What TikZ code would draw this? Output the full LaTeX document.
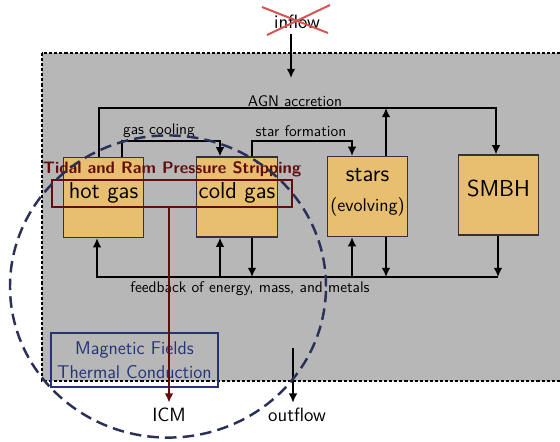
\documentclass[tikz,border=0pt]{standalone}
\usepackage{tikz}
\usetikzlibrary{positioning,arrows,arrows.meta}
\renewcommand{\familydefault}{\sfdefault}
\definecolor{gasorange}{RGB}{232,190,112}
\definecolor{regiongray}{RGB}{183,183,183}
\definecolor{stripred}{RGB}{100,12,12}
\definecolor{fieldblue}{RGB}{36,52,122}
\definecolor{halonavy}{RGB}{42,48,88}
\definecolor{crossred}{RGB}{214,84,84}

\begin{document}
\begin{tikzpicture}[x=0.65pt,y=-0.65pt]
 \tikzset{arrow/.style={line width=1pt,-{Latex[length=6pt,width=5.6pt]}},
   reservoir/.style={draw=black!80,line width=0.8pt,fill=gasorange,inner sep=0pt,
     minimum width=52.3pt,minimum height=52pt,text depth=9pt,align=center,
     font=\fontsize{15}{19.5}\selectfont},
   bigtext/.style={font=\fontsize{12.5}{15}\selectfont},
   redarrow/.style={draw=stripred,line width=1.3pt,-{Latex[length=6pt,width=5.6pt]}}}
 \useasboundingbox (0,0) rectangle (560,441);
 \draw[fill=regiongray,line width=1.2pt,dash pattern=on 2pt off 1.3pt] (42,53) rectangle (600,381);

 \node[reservoir] (hot) at (103.5,197.5) {hot gas};
 \node[reservoir] (cold) at (237,197) {cold gas};
 \node[reservoir] (stars) at (367.5,196.5) {stars\\{\fontsize{12}{14}\selectfont (evolving)}};
 \node[reservoir] (smbh) at (498.5,195) {SMBH};

 \node (agn) at (295,101) {AGN accretion};
 \node (cool) at (159,131) {gas cooling};
 \node (sf) at (301,131) {star formation};
 \node (fb) at (250,289) {feedback of energy, mass, and metals};

 \coordinate (agnL) at (99,108);
 \coordinate (agnR) at (496,108);
 \coordinate (agnUp) at (386,108);
 \coordinate (coolL) at (122,141);
 \coordinate (coolR) at (220,141);
 \coordinate (sfL) at (252,141);
 \coordinate (sfR) at (352,141);
 \coordinate (fbL) at (97,277);
 \coordinate (fbR) at (498,277);

 \draw[arrow] (hot.north -| agnL) |- (agnR) -- (smbh.north -| agnR);
 \draw[arrow] (stars.north -| agnUp) -- (agnUp);
 \draw[arrow] (hot.north -| coolL) |- (coolR) -- (cold.north -| coolR);
 \draw[arrow] (cold.north -| sfL) |- (sfR) -- (stars.north -| sfR);
 \draw[arrow] (fbR) -- (fbL) -- (hot.south -| fbL);
 \draw[arrow] (smbh.south -| fbR) -- (fbR);
 \draw[arrow] (stars.south -| agnUp) -- (agnUp |- fbR);
 \draw[arrow] (cold.south -| sfL) -- (sfL |- fbR);
 \draw[arrow] (sfR |- fbR) -- (stars.south -| sfR);
 \draw[arrow] (coolR |- fbR) -- (cold.south -| coolR);

 \node[bigtext] (inflow) at (297,22) {inflow};
 \coordinate (inEnd) at (291,78);
 \draw[arrow] (inflow.south -| inEnd) -- (inEnd);
 \draw[crossred,line width=1.3pt] ([shift={(-35,-15)}]inflow.center) -- ([shift={(31,11)}]inflow.center);
 \draw[crossred,line width=1.3pt] ([shift={(-30,13)}]inflow.center) -- ([shift={(33,-17)}]inflow.center);

 \node[bigtext] (outflow) at (297,415) {outflow};
 \coordinate (outTop) at (293,348);
 \draw[arrow] (outTop) -- (outTop |- outflow.north);

 \node[bigtext] (icm) at (169,415) {ICM};
 \node[draw=fieldblue,line width=1.6pt,text=fieldblue,align=center,inner sep=0.5pt,
   minimum width=108.5pt,minimum height=35pt,font=\fontsize{12}{15.6}\selectfont]
   (mag) at (134.5,360) {Magnetic Fields\\Thermal Conduction};

 \node[draw=stripred,line width=1.3pt,minimum width=156pt,minimum height=17.5pt,inner sep=0pt] (strip) at (172,193.5) {};
 \node[text=stripred,font=\bfseries\fontsize{10.8}{13}\selectfont] (tidal) at (172,169) {Tidal and Ram Pressure Stripping};
 \draw[redarrow] (strip.south -| icm) -- (icm);

 \draw[halonavy,line width=1.6pt,dash pattern=on 7.5pt off 4pt] (168,286.5) ellipse [x radius=102.7pt,y radius=98.2pt];
\end{tikzpicture}
\end{document}
